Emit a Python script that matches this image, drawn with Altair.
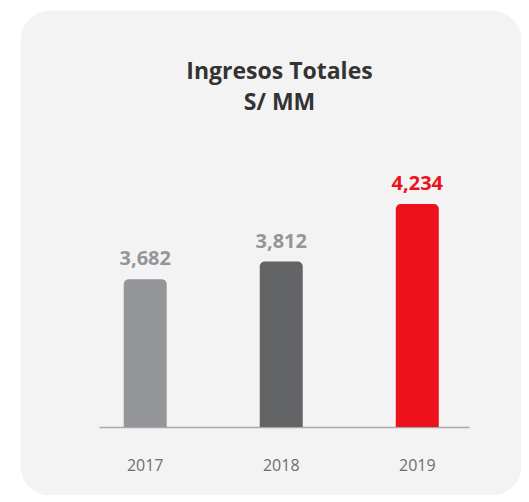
import altair as alt
import pandas as pd

years = ["2017", "2018", "2019"]
values = [3682, 3812, 4234]
labels = ["3,682", "3,812", "4,234"]
bar_colors = ["#939598", "#636466", "#ec111a"]
label_colors = ["#939598", "#939598", "#ec111a"]
title_lines = ["Ingresos Totales", "S/ MM"]

df = pd.DataFrame({"year": years, "value": values, "label": labels})

base_value = 2600
FONT = "Open Sans"

x_enc = alt.X(
    "year:N",
    sort=years,
    scale=alt.Scale(range=[79, 449], paddingInner=0.684, paddingOuter=0.202, align=0.45),
    axis=alt.Axis(
        title=None, offset=-68, ticks=False, labelPadding=30, labelAngle=0,
        domainColor="#a7a9ac", domainWidth=1.5, labelFont=FONT, labelFontSize=16,
        labelColor="#6d6e71", grid=False,
    ),
)
y_scale = alt.Scale(domain=[base_value, max(values)], range=[417, 194])

base = alt.Chart(df)

bars = base.mark_bar(cornerRadiusTopLeft=5, cornerRadiusTopRight=5).encode(
    x=x_enc,
    y=alt.Y("value:Q", scale=y_scale, axis=None),
    y2=alt.datum(base_value),
    color=alt.Color("year:N", scale=alt.Scale(domain=years, range=bar_colors), legend=None),
)

text = base.mark_text(dy=-14, baseline="alphabetic", fontSize=20, fontWeight="bold", font=FONT).encode(
    x=x_enc,
    y=alt.Y("value:Q", scale=y_scale, axis=None),
    text="label:N",
    color=alt.Color("year:N", scale=alt.Scale(domain=years, range=label_colors), legend=None),
)

chart = (
    alt.layer(bars, text)
    .resolve_scale(color="independent")
    .properties(
        width=501,
        height=485,
        autosize="none",
        padding={"left": 12, "top": 2, "right": 0, "bottom": 0},
        background="white",
        title=alt.TitleParams(
            title_lines, anchor="middle", frame="group", offset=-105, dx=9,
            fontSize=23, font=FONT, fontWeight="bold", color="#333333", lineHeight=31,
        ),
    )
    .configure_view(fill="#f3f3f3", strokeOpacity=0, cornerRadius=30)
)

chart.save("out.html", embed_options={"renderer": "svg", "actions": False})
